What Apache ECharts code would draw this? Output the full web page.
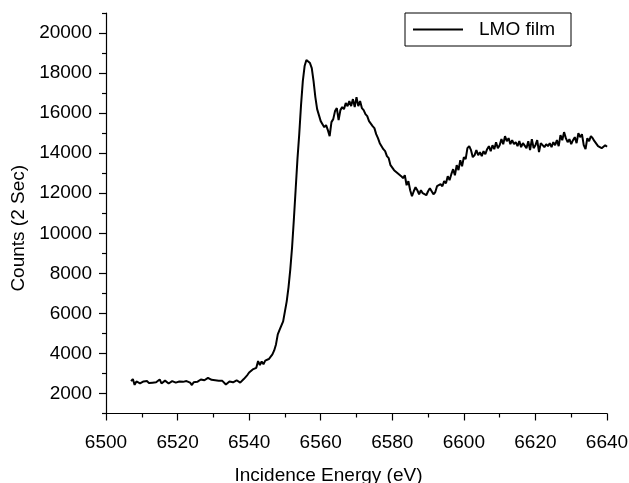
<!DOCTYPE html>
<html>
<head>
<meta charset="utf-8">
<script src="https://cdn.jsdelivr.net/npm/echarts@6/dist/echarts.min.js"></script>
<style>
  html, body { margin: 0; padding: 0; background: #fff; }
  #chart { width: 629px; height: 483px; }
</style>
</head>
<body>
<div id="chart"></div>
<script>
// incidence energy (eV), 0.5 eV steps
var energy = [
  6507, 6507.5, 6508, 6508.5, 6509, 6509.5, 6510, 6510.5, 6511, 6511.5,
  6512, 6512.5, 6513, 6513.5, 6514, 6514.5, 6515, 6515.5, 6516, 6516.5,
  6517, 6517.5, 6518, 6518.5, 6519, 6519.5, 6520, 6520.5, 6521, 6521.5,
  6522, 6522.5, 6523, 6523.5, 6524, 6524.5, 6525, 6525.5, 6526, 6526.5,
  6527, 6527.5, 6528, 6528.5, 6529, 6529.5, 6530, 6530.5, 6531, 6531.5,
  6532, 6532.5, 6533, 6533.5, 6534, 6534.5, 6535, 6535.5, 6536, 6536.5,
  6537, 6537.5, 6538, 6538.5, 6539, 6539.5, 6540, 6540.5, 6541, 6541.5,
  6542, 6542.5, 6543, 6543.5, 6544, 6544.5, 6545, 6545.5, 6546, 6546.5,
  6547, 6547.5, 6548, 6548.5, 6549, 6549.5, 6550, 6550.5, 6551, 6551.5,
  6552, 6552.5, 6553, 6553.5, 6554, 6554.5, 6555, 6555.5, 6556, 6556.5,
  6557, 6557.5, 6558, 6558.5, 6559, 6559.5, 6560, 6560.5, 6561, 6561.5,
  6562, 6562.5, 6563, 6563.5, 6564, 6564.5, 6565, 6565.5, 6566, 6566.5,
  6567, 6567.5, 6568, 6568.5, 6569, 6569.5, 6570, 6570.5, 6571, 6571.5,
  6572, 6572.5, 6573, 6573.5, 6574, 6574.5, 6575, 6575.5, 6576, 6576.5,
  6577, 6577.5, 6578, 6578.5, 6579, 6579.5, 6580, 6580.5, 6581, 6581.5,
  6582, 6582.5, 6583, 6583.5, 6584, 6584.5, 6585, 6585.5, 6586, 6586.5,
  6587, 6587.5, 6588, 6588.5, 6589, 6589.5, 6590, 6590.5, 6591, 6591.5,
  6592, 6592.5, 6593, 6593.5, 6594, 6594.5, 6595, 6595.5, 6596, 6596.5,
  6597, 6597.5, 6598, 6598.5, 6599, 6599.5, 6600, 6600.5, 6601, 6601.5,
  6602, 6602.5, 6603, 6603.5, 6604, 6604.5, 6605, 6605.5, 6606, 6606.5,
  6607, 6607.5, 6608, 6608.5, 6609, 6609.5, 6610, 6610.5, 6611, 6611.5,
  6612, 6612.5, 6613, 6613.5, 6614, 6614.5, 6615, 6615.5, 6616, 6616.5,
  6617, 6617.5, 6618, 6618.5, 6619, 6619.5, 6620, 6620.5, 6621, 6621.5,
  6622, 6622.5, 6623, 6623.5, 6624, 6624.5, 6625, 6625.5, 6626, 6626.5,
  6627, 6627.5, 6628, 6628.5, 6629, 6629.5, 6630, 6630.5, 6631, 6631.5,
  6632, 6632.5, 6633, 6633.5, 6634, 6634.5, 6635, 6635.5, 6636, 6636.5,
  6637, 6637.5, 6638, 6638.5, 6639, 6639.5, 6640
];
// counts (2 sec)
var counts = [
  2620, 2720, 2430, 2600, 2680, 2500, 2450, 2600, 2540, 2620,
  2520, 2600, 2540, 2580, 2560, 2640, 2700, 2500, 2470, 2640,
  2620, 2500, 2480, 2620, 2700, 2540, 2520, 2600, 2560, 2580,
  2530, 2620, 2650, 2540, 2420, 2560, 2600, 2580, 2660, 2700,
  2620, 2660, 2720, 2780, 2720, 2680, 2640, 2660, 2620, 2640,
  2600, 2630, 2620, 2450, 2440, 2600, 2640, 2560, 2580, 2660,
  2600, 2540, 2620, 2720, 2760, 2920, 3050, 3120, 3200, 3180,
  3280, 3620, 3420, 3600, 3460, 3640, 3620, 3720, 3800, 3950,
  4150, 4450, 4950, 5180, 5200, 5600, 6100, 6600, 7300, 8200,
  9300, 10700, 12200, 13700, 14950, 16400, 17600, 18350, 18650, 18680,
  18500, 18250, 17600, 16800, 16200, 15900, 15600, 15450, 15300, 15400,
  15150, 14850, 15550, 15700, 16100, 16250, 15650, 16150, 16300, 16200,
  16500, 16350, 16600, 16350, 16700, 16300, 16800, 16350, 16600, 16250,
  16150, 15950, 15850, 15600, 15550, 15350, 15250, 14950, 14750, 14500,
  14450, 14200, 14100, 13850, 13750, 13400, 13350, 13150, 13200, 13000,
  13050, 12850, 12750, 12900, 12400, 12600, 12150, 11850, 12100, 12300,
  12150, 11950, 12150, 12000, 12050, 11900, 12100, 12250, 12100, 11950,
  12050, 12350, 12300, 12450, 12350, 12600, 12500, 12850, 12650, 12950,
  13200, 12900, 13400, 13150, 13650, 13350, 13800, 13700, 14250, 14350,
  14150, 13800, 13900, 14150, 13900, 14050, 13850, 14100, 13950, 14200,
  14350, 14100, 14400, 14200, 14550, 14250, 14400, 14700, 14450, 14850,
  14600, 14750, 14450, 14650, 14450, 14550, 14350, 14600, 14300, 14500,
  14550, 14250, 14600, 14150, 14700, 14250, 14400, 14650, 14050, 14500,
  14550, 14300, 14450, 14350, 14500, 14300, 14550, 14400, 14650, 14350,
  14900, 14650, 15050, 14750, 14550, 14700, 14450, 14650, 14800, 14500,
  15000, 14800, 14950, 14400, 14200, 14750, 14600, 14850, 14750, 14600,
  14600, 14350, 14400, 14250, 14300, 14400, 14320
];
var yMajorTicks = [2000, 4000, 6000, 8000, 10000, 12000, 14000, 16000, 18000, 20000];
var yMinorTicks = [1000, 3000, 5000, 7000, 9000, 11000, 13000, 15000, 17000, 19000, 21000];

var font = 'Liberation Sans, Arial, sans-serif';
var chart = echarts.init(document.getElementById('chart'));

var points = energy.map(function (e, i) { return [e, counts[i]]; });
var plain = function (v) { return String(v); };

chart.setOption({
  animation: false,
  backgroundColor: '#fff',
  grid: { left: 106, top: 13, width: 501, height: 400.5, outerBoundsMode: 'none' },
  legend: {
    data: [{ name: 'LMO film', icon: 'rect' }],
    left: 405,
    top: 13,
    padding: [6, 16, 6, 8],
    borderColor: '#000',
    borderWidth: 1,
    itemWidth: 50,
    itemHeight: 2,
    itemStyle: { color: '#000' },
    textStyle: { fontFamily: font, fontSize: 19, color: '#000', padding: [0, 0, 0, 11], lineHeight: 21 }
  },
  xAxis: {
    type: 'value',
    min: 6500,
    max: 6640,
    interval: 20,
    name: 'Incidence Energy (eV)',
    nameLocation: 'middle',
    nameGap: 53,
    nameTextStyle: { fontFamily: font, fontSize: 19, color: '#000', padding: [0, 56, 0, 0] },
    axisLine: { lineStyle: { color: '#000', width: 1.2 } },
    axisTick: { length: 7, lineStyle: { color: '#000', width: 1.2 } },
    minorTick: { show: true, splitNumber: 2, length: 4, lineStyle: { color: '#000', width: 1.2 } },
    axisLabel: { fontFamily: font, fontSize: 19, color: '#000', margin: 20, formatter: plain },
    splitLine: { show: false }
  },
  yAxis: [{
    type: 'value',
    min: 1000,
    max: 21000,
    interval: 1000,
    name: 'Counts (2 Sec)',
    nameLocation: 'middle',
    nameGap: 77,
    nameTextStyle: { fontFamily: font, fontSize: 19, color: '#000', padding: [0, 30, 0, 0] },
    axisLine: { show: true, lineStyle: { color: '#000', width: 1.2 } },
    axisTick: { show: true, length: 7, customValues: yMajorTicks, lineStyle: { color: '#000', width: 1.2 } },
    axisLabel: { fontFamily: font, fontSize: 19, color: '#000', margin: 14, customValues: yMajorTicks, formatter: plain },
    splitLine: { show: false }
  }, {
    type: 'value',
    position: 'left',
    min: 1000,
    max: 21000,
    interval: 1000,
    axisLine: { show: false },
    axisTick: { show: true, length: 4, customValues: yMinorTicks, lineStyle: { color: '#000', width: 1.2 } },
    axisLabel: { show: false },
    splitLine: { show: false }
  }],
  series: [{
    name: 'LMO film',
    type: 'line',
    data: points,
    yAxisIndex: 0,
    symbol: 'none',
    lineStyle: { color: '#000', width: 2 },
    itemStyle: { color: '#000' }
  }]
});
</script>
</body>
</html>
